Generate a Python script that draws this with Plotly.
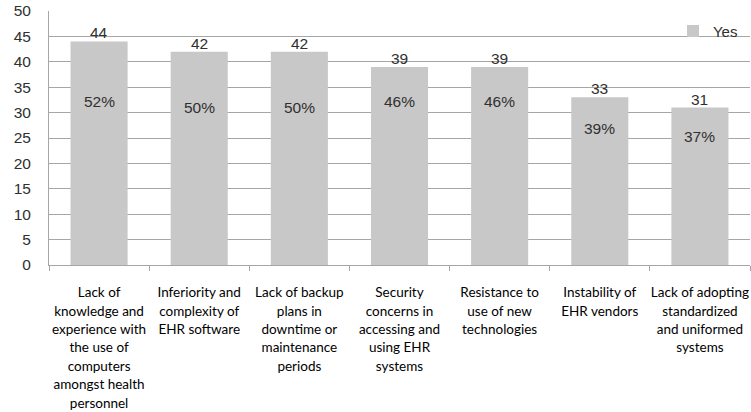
import plotly.graph_objects as go

category_lines = [
    ["Lack of", "knowledge and", "experience with", "the use of", "computers", "amongst health", "personnel"],
    ["Inferiority and", "complexity of", "EHR software"],
    ["Lack of backup", "plans in", "downtime or", "maintenance", "periods"],
    ["Security", "concerns in", "accessing and", "using EHR", "systems"],
    ["Resistance to", "use of new", "technologies"],
    ["Instability of", "EHR vendors"],
    ["Lack of adopting", "standardized", "and uniformed", "systems"],
]
yes_counts = [44, 42, 42, 39, 39, 33, 31]
yes_pct = ["52%", "50%", "50%", "46%", "46%", "39%", "37%"]

# vertical position (in axis units) of the percentage labels inside the bars
pct_label_pos = [32.1, 31.0, 31.0, 32.1, 32.1, 26.9, 25.2]

CATFONT = "Lato, Liberation Sans, Arial, sans-serif"
NUMFONT = "Liberation Sans, Arial, sans-serif"
TXT = "#303030"

# smaller glyphs inside a larger line pitch (Excel-like spacing)
categories = ["<br>".join(f'<span style="font-size:13.5px">{ln}</span>' for ln in lines)
              for lines in category_lines]

fig = go.Figure()
fig.add_trace(go.Bar(
    x=categories, y=yes_counts, name="Yes",
    marker=dict(color="#c8c8c8", line=dict(width=0)),
))

for c, v in zip(categories, yes_counts):
    fig.add_annotation(x=c, y=v, text=str(v), showarrow=False, yanchor="bottom", yshift=-2,
                       font=dict(size=15.5, color=TXT, family=NUMFONT))

for c, p, pos in zip(categories, yes_pct, pct_label_pos):
    fig.add_annotation(x=c, y=pos, text=p, showarrow=False,
                       font=dict(size=15.5, color=TXT, family=NUMFONT))

fig.update_layout(
    width=751, height=412,
    margin=dict(l=49, r=1, t=11, b=147, autoexpand=False),
    paper_bgcolor="white", plot_bgcolor="white",
    bargap=0.43,
    showlegend=True,
    legend=dict(x=0.99, y=0.985, xanchor="right", yanchor="top",
                bgcolor="rgba(0,0,0,0)",
                font=dict(size=15, color=TXT, family=NUMFONT),
                itemwidth=30),
)
fig.update_yaxes(range=[0, 50], dtick=5, showgrid=True, gridcolor="#a6a6a6", gridwidth=1,
                 showline=True, linecolor="#a6a6a6", linewidth=1,
                 ticks="", ticklabelstandoff=14, automargin=False,
                 tickfont=dict(size=15.5, color=TXT, family=NUMFONT),
                 zeroline=False)
fig.update_xaxes(showline=True, linecolor="#a6a6a6", linewidth=1,
                 ticks="outside", tickson="boundaries", ticklen=5, tickcolor="#a6a6a6",
                 tickangle=0, ticklabelstandoff=14, automargin=False,
                 tickfont=dict(size=14.2, color="#000000", family=CATFONT))

fig.write_html("out.html")
